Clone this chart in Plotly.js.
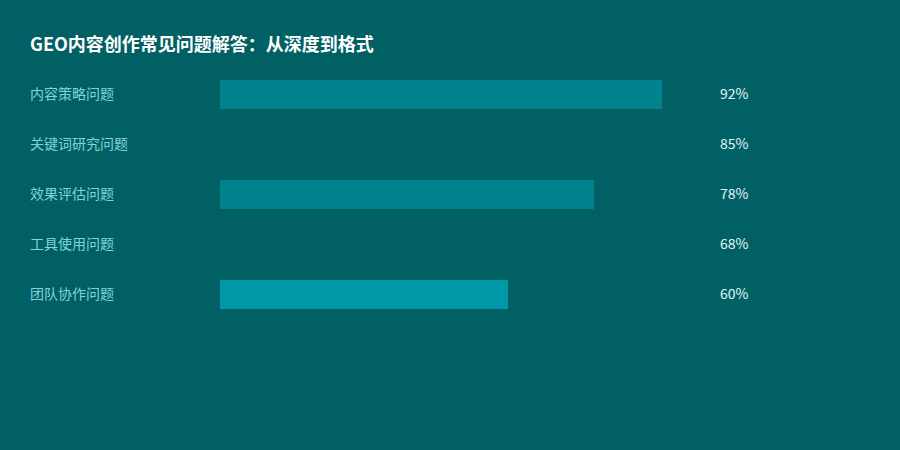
<!DOCTYPE html>
<html>
<head>
<meta charset="utf-8">
<script src="https://cdn.plot.ly/plotly-3.0.1.min.js"></script>
<style>
  html, body { margin: 0; padding: 0; background: #006064; }
  #chart { width: 900px; height: 450px; }
</style>
</head>
<body>
<div id="chart"></div>
<script>
// categories top to bottom
var categories = ['内容策略问题', '关键词研究问题', '效果评估问题', '工具使用问题', '团队协作问题'];
var values = [92, 85, 78, 68, 60];
var barColors = ['#00838F', '#006064', '#00838F', '#006064', '#0097A7'];
var valueLabels = ['92%', '85%', '78%', '68%', '60%'];

var fontFamily = '"Noto Sans CJK SC", "Noto Sans", sans-serif';

var trace = {
  type: 'bar',
  orientation: 'h',
  x: values,
  y: categories,
  width: 0.58,
  marker: { color: barColors, line: { width: 0 } },
  hoverinfo: 'none'
};

var annotations = [];
var i;
for (i = 0; i < categories.length; i++) {
  // category label on the left
  annotations.push({
    xref: 'paper', yref: 'y',
    x: (28 - 220) / 480, y: categories[i],
    xanchor: 'left', yanchor: 'middle', yshift: 1,
    text: categories[i], showarrow: false,
    font: { family: fontFamily, size: 14, color: '#80D4D6' }
  });
  // value label on the right
  annotations.push({
    xref: 'paper', yref: 'y',
    x: 498 / 480, y: categories[i],
    xanchor: 'left', yanchor: 'middle', yshift: 1,
    text: valueLabels[i], showarrow: false,
    font: { family: fontFamily, size: 14, color: '#E0F7FA' }
  });
}

var layout = {
  width: 900,
  height: 450,
  paper_bgcolor: '#006064',
  plot_bgcolor: '#006064',
  margin: { l: 220, r: 200, t: 69, b: 131 },
  title: {
    text: '<b>GEO内容创作常见问题解答：从深度到格式</b>',
    x: 30 / 900, xanchor: 'left',
    xref: 'container',
    y: 1 - 45 / 450, yanchor: 'middle', yref: 'container',
    font: { family: fontFamily, size: 18, color: '#FFFFFF' }
  },
  xaxis: {
    range: [0, 100],
    visible: false,
    fixedrange: true
  },
  yaxis: {
    type: 'category',
    autorange: false,
    range: [4.5, -0.5],
    visible: false,
    fixedrange: true
  },
  showlegend: false,
  bargap: 0,
  annotations: annotations
};

Plotly.newPlot('chart', [trace], layout, { displayModeBar: false, staticPlot: true });
</script>
</body>
</html>
